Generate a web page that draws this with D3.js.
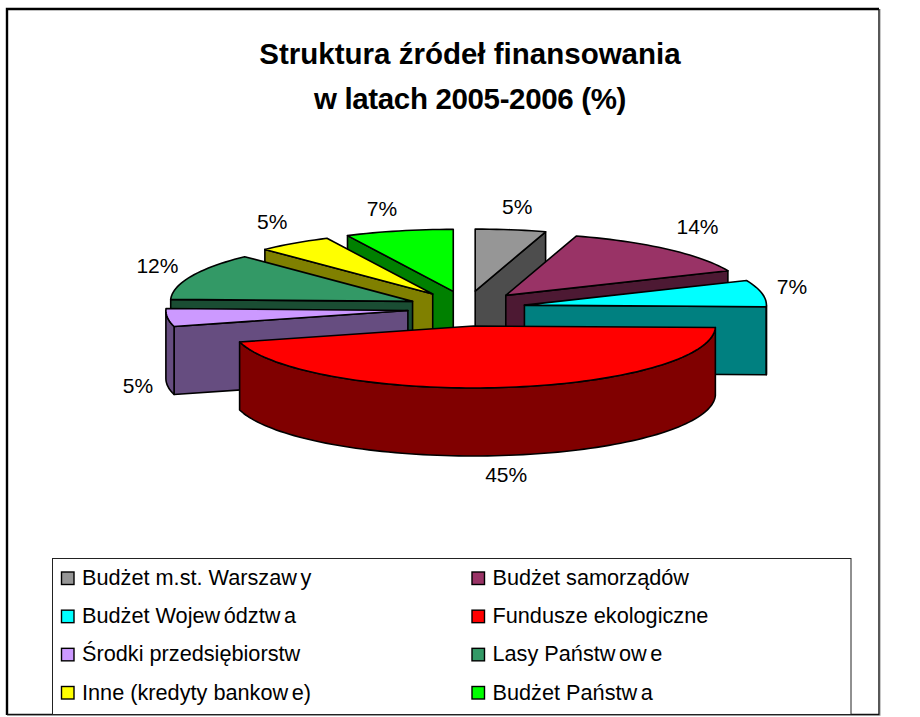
<!DOCTYPE html>
<html lang="pl">
<head>
<meta charset="utf-8">
<script src="https://cdn.jsdelivr.net/npm/d3@7/dist/d3.min.js"></script>
<style>
html,body{margin:0;padding:0;background:#fff;}
svg{display:block;}
text{font-family:"Liberation Sans",Arial,sans-serif;fill:#000;}
</style>
</head>
<body>
<script>
// ---- data ----
const categories = ["Budżet m.st. Warszawy","Budżet samorządów","Budżet Województwa","Fundusze ekologiczne","Środki przedsiębiorstw","Lasy Państwowe","Inne (kredyty bankowe)","Budżet Państwa"];
const values = [4.7,13.8,6.9,45.45,4.65,12.3,5,7.2];
const topColors = ["#969696","#993366","#00ffff","#ff0000","#cc99ff","#339966","#ffff00","#00ff00"];
const sideColors = ["#4d4d4d","#4d1933","#008080","#800000","#664d80","#1a4d33","#808000","#008000"];
const titleLines = ["Struktura źródeł finansowania","w latach 2005-2006 (%)"];

// ---- layout ----
const W = 920, H = 717;
const cx = 466.5, cy = 308.5, rx = 242, ry = 62, depth = 68, explodeX = 59, explodeY = 17.6;
const labelNudge = [[6.5,-23],[30.5,-22],[30,-6.4],[4.3,87.4],[-29.5,68.4],[-34,-10],[-22,-21],[-17,-22]];

const svg = d3.select("body").append("svg").attr("width",W).attr("height",H);

// frame
svg.append("path").attr("d","M880.5 9V715.5H7").attr("fill","none").attr("stroke","#c8c8c8").attr("stroke-width",1);
svg.append("path").attr("d","M7 715V9H879").attr("fill","none").attr("stroke","#000").attr("stroke-width",2.4);
svg.append("path").attr("d","M879 9V714.5H7").attr("fill","none").attr("stroke","#111").attr("stroke-width",1.4);

// title
svg.selectAll("text.title").data(titleLines).join("text").attr("class","title")
  .attr("x",470).attr("y",(d,i)=>64+i*44.5).attr("text-anchor","middle")
  .attr("font-size",29.5).attr("font-weight","bold")
  .attr("letter-spacing",(d,i)=>i?-0.35:0).text(d=>d);

// pie geometry
const pie = d3.pie().sort(null).value(d=>d).startAngle(0).endAngle(2*Math.PI);
const arcs = pie(values).map((a,i)=>{
  const mid=(a.startAngle+a.endAngle)/2;
  const ax=cx+explodeX*Math.sin(mid), ay=cy-explodeY*Math.cos(mid);
  const sx=d3.scaleLinear().domain([-1,1]).range([ax-rx,ax+rx]);
  const sy=d3.scaleLinear().domain([-1,1]).range([ay-ry,ay+ry]);
  return {i,a0:a.startAngle,a1:a.endAngle,mid,ax,ay,
    px:t=>sx(Math.sin(t)), py:t=>sy(-Math.cos(t))};
});
const line=d3.line().x(d=>d[0]).y(d=>d[1]);
function rim(s,a0,a1,dy){
  const n=Math.max(2,Math.ceil((a1-a0)/0.03));
  return d3.range(n+1).map(k=>{const t=a0+(a1-a0)*k/n;return [s.px(t),s.py(t)+dy];});
}
const drawOrder=d3.sort(arcs,s=>s.ay);
const g=svg.append("g").attr("stroke","#000").attr("stroke-width",1.6).attr("stroke-linejoin","round");
drawOrder.forEach(s=>{
  const slice=g.append("g");
  const wall=pts=>slice.append("path").attr("d",line(pts)+"Z").attr("fill",sideColors[s.i]);
  const radial=t=>[[s.ax,s.ay],[s.px(t),s.py(t)],[s.px(t),s.py(t)+depth],[s.ax,s.ay+depth]];
  // a radial wall is visible only when its outward normal points at the viewer
  if(Math.sin(s.a1)>1e-6) wall(radial(s.a1));
  if(Math.sin(s.a0)<-1e-6) wall(radial(s.a0));
  // outer wall: the front half of the rim
  const f0=Math.max(s.a0,Math.PI/2), f1=Math.min(s.a1,3*Math.PI/2);
  if(f1>f0){
    const up=rim(s,f0,f1,0), down=rim(s,f0,f1,depth).reverse();
    wall(up.concat(down));
  }
  // top face
  slice.append("path").attr("d",line([[s.ax,s.ay]].concat(rim(s,s.a0,s.a1,0)))+"Z").attr("fill",topColors[s.i]);
});

// value labels, placed from each slice's rim midpoint
svg.selectAll("text.val").data(arcs).join("text").attr("class","val")
  .attr("x",s=>s.px(s.mid)+labelNudge[s.i][0])
  .attr("y",s=>s.py(s.mid)+labelNudge[s.i][1]+7)
  .attr("text-anchor","middle").attr("font-size",21)
  .text(s=>Math.round(values[s.i])+"%");

// legend
svg.append("rect").attr("x",52.5).attr("y",558.5).attr("width",798.5).attr("height",156)
  .attr("fill","#fff").attr("stroke","#222").attr("stroke-width",1);
const colX=d3.scaleOrdinal().domain([0,1]).range([61,471.5]);
const rowY=d3.scalePoint().domain(d3.range(4)).range([578,692.5]);
const items=svg.selectAll("g.item").data(categories).join("g").attr("class","item")
  .attr("transform",(d,i)=>`translate(${colX(i%2)},${rowY(Math.floor(i/2))})`);
items.append("rect").attr("x",0.5).attr("y",-6).attr("width",12.5).attr("height",12.5)
  .attr("fill",(d,i)=>topColors[i]).attr("stroke","#000").attr("stroke-width",1.4);
items.append("text").attr("x",21).attr("y",7).attr("font-size",21.7)
  .each(function(d){
    const t=d3.select(this);
    // the reference shows a small gap after each inner "w"
    d.split(/(?<=w)(?=\p{L})/u).forEach((p,k)=>t.append("tspan").attr("dx",k?3.5:0).text(p));
  });
</script>
</body>
</html>
